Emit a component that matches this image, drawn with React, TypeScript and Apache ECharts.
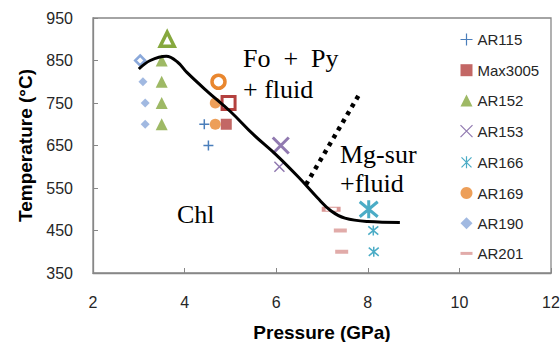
import React, { useEffect, useRef } from "react";
import * as echarts from "echarts";

// ---- data (Pressure GPa, Temperature °C) ----
const sampleNames = ["AR115", "Max3005", "AR152", "AR153", "AR166", "AR169", "AR190", "AR201"];

const ar115 = [[4.43, 700], [4.52, 650]];
const ar115Open: number[][] = [];
const max3005 = [[4.91, 700]];
const max3005Open = [[4.96, 750]];
const ar152 = [[3.5, 850], [3.5, 800], [3.5, 750], [3.5, 700]];
const ar152Open = [[3.62, 900]];
const ar153 = [[6.07, 600]];
const ar153Open = [[6.1, 650]];
const ar166 = [[8.12, 450], [8.13, 400]];
const ar166Open = [[8.02, 500]];
const ar169 = [[4.67, 750], [4.67, 700]];
const ar169Open = [[4.74, 800]];
const ar190 = [[3.09, 800], [3.14, 750], [3.14, 700]];
const ar190Open = [[3.03, 850]];
const ar201 = [[7.4, 450], [7.43, 400]];
const ar201Open = [[7.2, 500]];

const boundaryCurve = [
  [3.0, 830], [3.25, 850], [3.6, 860], [3.85, 846], [4.05, 822], [4.5, 777],
  [5.0, 730], [5.5, 676], [6.0, 628], [6.5, 574], [6.9, 527], [7.2, 496],
  [7.5, 479], [8.0, 471], [8.7, 469],
];
const dottedBoundary = [[6.65, 558], [7.8, 768]];

const xMin = 2, xMax = 12, xStep = 2;
const yMin = 350, yMax = 950, yStep = 100;

const colors = {
  AR115: "#4A7EBB",
  Max3005: "#B4413F",
  AR152: "#86A83E",
  AR153: "#9079B0",
  AR166: "#4BACC6",
  AR169: "#E9872F",
  AR190: "#8AA8DA",
  AR201: "#D99694",
};

const PLUS = "path://M0,5L10,5M5,0L5,10";
const CROSS = "path://M0,0L10,10M10,0L0,10";
const STAR = "path://M0,0L10,10M10,0L0,10M5,-1L5,11";

export default function App() {
  const ref = useRef<HTMLDivElement>(null);
  useEffect(() => {
    if (!ref.current) return;
    const chart = echarts.init(ref.current, null, { renderer: "svg" });

    const mk = (
      name: string,
      filled: number[][],
      open: number[][],
      symbol: string,
      size: any,
      fillStyle: any,
      openSymbol: string,
      openSize: any,
      openStyle: any
    ) => ({
      type: "scatter",
      name,
      symbol,
      symbolSize: size,
      itemStyle: fillStyle,
      z: 3,
      data: [
        ...filled.map((v) => ({ value: v })),
        ...open.map((v) => ({ value: v, symbol: openSymbol, symbolSize: openSize, itemStyle: openStyle })),
      ],
    });

    const stroke = (c: string, w: number) => ({ color: "none", borderColor: c, borderWidth: w, opacity: 1 });

    const series: any[] = [
      mk("AR115", ar115, ar115Open, PLUS, 10, stroke(colors.AR115, 1.5), PLUS, 14, stroke(colors.AR115, 3)),
      mk("Max3005", max3005, max3005Open, "rect", 11, { color: colors.Max3005 }, "rect", 13, stroke(colors.Max3005, 3)),
      mk("AR152", ar152, ar152Open, "triangle", 12, { color: colors.AR152 }, "triangle", 14, stroke(colors.AR152, 3.5)),
      mk("AR153", ar153, ar153Open, CROSS, 10, stroke(colors.AR153, 1.5), CROSS, 16, stroke(colors.AR153, 3)),
      mk("AR166", ar166, ar166Open, STAR, 10, stroke(colors.AR166, 1.5), STAR, 18, stroke(colors.AR166, 3)),
      mk("AR169", ar169, ar169Open, "circle", 11, { color: colors.AR169 }, "circle", 13, stroke(colors.AR169, 3.5)),
      mk("AR190", ar190, ar190Open, "diamond", 9, { color: colors.AR190 }, "diamond", 10, stroke(colors.AR190, 2.5)),
      mk("AR201", ar201, ar201Open, "rect", [13, 4], { color: colors.AR201 }, "rect", [15, 4], stroke(colors.AR201, 2)),
      {
        type: "line",
        name: "boundary",
        data: boundaryCurve,
        smooth: 0.4,
        symbol: "none",
        lineStyle: { color: "#000", width: 3 },
        z: 5,
        silent: true,
      },
      {
        type: "line",
        name: "dotted",
        data: dottedBoundary,
        symbol: "none",
        lineStyle: { color: "#000", width: 4.5, type: [4, 5], cap: "butt" },
        z: 5,
        silent: true,
      },
    ];

    const legendIcons: Record<string, any> = {
      AR115: { icon: PLUS, itemStyle: { color: "none", borderColor: colors.AR115, borderWidth: 1.2 } },
      Max3005: { icon: "rect", itemStyle: { color: colors.Max3005, borderWidth: 0 } },
      AR152: { icon: "triangle", itemStyle: { color: colors.AR152, borderWidth: 0 } },
      AR153: { icon: CROSS, itemStyle: { color: "none", borderColor: colors.AR153, borderWidth: 1.2 } },
      AR166: { icon: STAR, itemStyle: { color: "none", borderColor: colors.AR166, borderWidth: 1.2 } },
      AR169: { icon: "circle", itemStyle: { color: colors.AR169, borderWidth: 0 } },
      AR190: { icon: "diamond", itemStyle: { color: colors.AR190, borderWidth: 0 } },
      AR201: { icon: "path://M0,0L12,0L12,3L0,3Z", itemStyle: { color: colors.AR201, borderWidth: 0 } },
    };

    const serif = "'Liberation Serif', 'Times New Roman', serif";
    const annot = (text: string, x: number, y: number, size: number) => ({
      type: "text",
      x,
      y,
      style: { text, font: `${size}px ${serif}`, fill: "#000", verticalAlign: "middle" },
      z: 10,
    });

    chart.setOption({
      animation: false,
      backgroundColor: "#fff",
      grid: {
        left: 93,
        top: 18,
        right: 9,
        bottom: 69,
        show: true,
        borderColor: "#878787",
        borderWidth: 1.3,
        outerBoundsMode: "none",
        containLabel: false,
      },
      xAxis: {
        type: "value",
        min: xMin,
        max: xMax,
        interval: xStep,
        name: "Pressure (GPa)",
        nameLocation: "middle",
        nameGap: 50,
        nameTextStyle: { fontFamily: "Liberation Sans", fontWeight: "bold", fontSize: 19, color: "#000" },
        axisLine: { show: true, lineStyle: { color: "#878787", width: 1.3 } },
        axisTick: { show: true, inside: true, length: 5, lineStyle: { color: "#878787" } },
        axisLabel: { fontFamily: "Liberation Sans", fontSize: 16, color: "#262626", margin: 21 },
        splitLine: { show: false },
      },
      yAxis: {
        type: "value",
        min: yMin,
        max: yMax,
        interval: yStep,
        name: "Temperature (°C)",
        nameLocation: "middle",
        nameGap: 49,
        nameTextStyle: { fontFamily: "Liberation Sans", fontWeight: "bold", fontSize: 19, color: "#000" },
        axisLine: { show: true, lineStyle: { color: "#878787", width: 1.3 } },
        axisTick: { show: true, inside: true, length: 5, lineStyle: { color: "#878787" } },
        axisLabel: { fontFamily: "Liberation Sans", fontSize: 16, color: "#262626", margin: 20 },
        splitLine: { show: false },
      },
      legend: {
        orient: "vertical",
        left: 453,
        top: 26,
        itemWidth: 12,
        itemHeight: 12,
        itemGap: 14.2,
        textStyle: { fontFamily: "Liberation Sans", fontSize: 15, color: "#262626", lineHeight: 16 },
        data: sampleNames.map((n) => ({ name: n, ...legendIcons[n] })),
        selectedMode: false,
      },
      graphic: [
        annot("Fo  +  Py", 243, 58.5, 26),
        annot("+ fluid", 243, 89.5, 26),
        annot("Mg-sur", 340, 154.5, 26),
        annot("+fluid", 340, 183, 26),
        annot("Chl", 177, 214.5, 26),
      ],
      series,
    });

    return () => chart.dispose();
  }, []);

  return (
    <div
      ref={ref}
      style={{ position: "absolute", left: 0, top: 0, width: 560, height: 342 }}
    />
  );
}
